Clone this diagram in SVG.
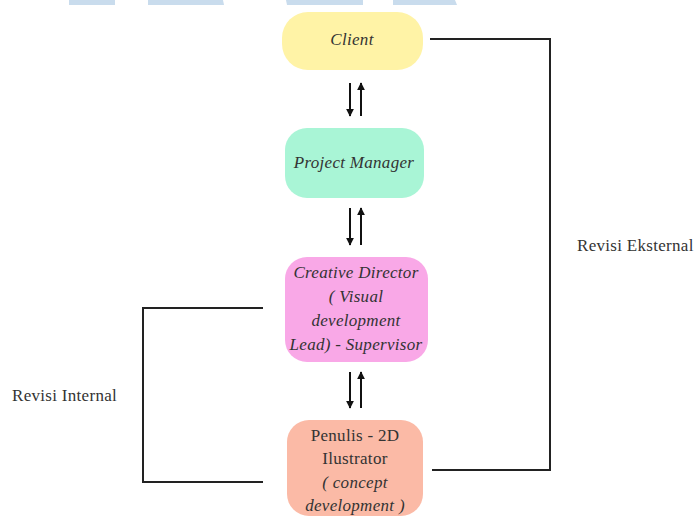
<svg xmlns="http://www.w3.org/2000/svg" width="694" height="518" viewBox="0 0 694 518">
<style>
.t{font-family:"Liberation Serif","Times New Roman",serif;font-size:17px;letter-spacing:0.3px;fill:#333;}
.n{text-anchor:middle;}
.i{font-style:italic;}
.ln{fill:none;stroke:#222;stroke-width:2;}
.ar{stroke:#111;stroke-width:2;marker-end:url(#ah);}
.wm{fill:#c9dced;}
</style>
<defs>
<marker id="ah" viewBox="0 0 10 10" refX="9" refY="5" markerWidth="4" markerHeight="4" orient="auto">
<path d="M0,0 L10,5 L0,10 z" fill="#111"/>
</marker>
</defs>
<g id="watermark">
<polygon class="wm" points="69,0 115,0 115,5 69,5"/>
<polygon class="wm" points="148,0 223,0 224,5 148,5"/>
<polygon class="wm" points="286,0 363,0 363,5 287,5"/>
<polygon class="wm" points="393,0 455,0 457,5 393,5"/>
</g>
<g id="connectors">
<polyline class="ln" points="430,39 550,39 550,470 432,470"/>
<polyline class="ln" points="263,308 143,308 143,482 263,482"/>
<line class="ar" x1="350" y1="83" x2="350" y2="116"/>
<line class="ar" x1="361" y1="116" x2="361" y2="83"/>
<line class="ar" x1="350" y1="208" x2="350" y2="245"/>
<line class="ar" x1="361" y1="245" x2="361" y2="208"/>
<line class="ar" x1="350" y1="372" x2="350" y2="408"/>
<line class="ar" x1="361" y1="408" x2="361" y2="372"/>
</g>
<g id="client">
<rect x="282" y="12" width="141" height="58" rx="26" fill="#fff3a6"/>
<text class="t n i" x="352" y="45">Client</text>
</g>
<g id="pm">
<rect x="285" y="128" width="139" height="70" rx="22" fill="#a9f5d6"/>
<text class="t n i" x="354" y="168">Project Manager</text>
</g>
<g id="cd">
<rect x="285" y="257" width="143" height="105" rx="22" fill="#f9a8e7"/>
<text class="t n i" x="356" y="278">Creative Director</text>
<text class="t n i" x="356" y="302">( Visual</text>
<text class="t n i" x="356" y="326">development</text>
<text class="t n i" x="356" y="350">Lead) - Supervisor</text>
</g>
<g id="penulis">
<rect x="287" y="420" width="136" height="96" rx="22" fill="#fbbaa6"/>
<text class="t n" x="355" y="441">Penulis - 2D</text>
<text class="t n" x="355" y="464">Ilustrator</text>
<text class="t n i" x="355" y="488">( concept</text>
<text class="t n i" x="355" y="511">development )</text>
</g>
<text class="t" x="577" y="251">Revisi Eksternal</text>
<text class="t" x="12" y="401">Revisi Internal</text>
</svg>
